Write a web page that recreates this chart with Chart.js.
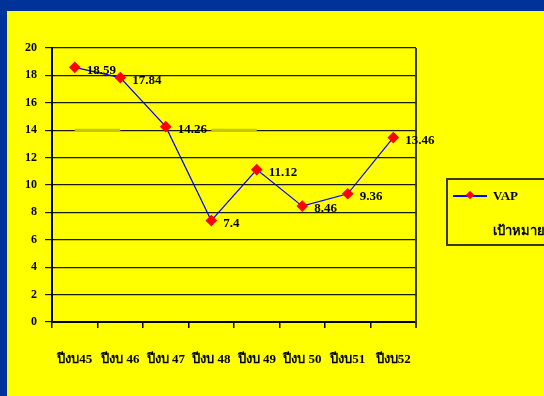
<!DOCTYPE html>
<html>
<head>
<meta charset="utf-8">
<script src="https://cdn.jsdelivr.net/npm/chart.js@4"></script>
<style>
  html, body { margin: 0; padding: 0; }
  body { width: 544px; height: 396px; background: #003399; position: relative; overflow: hidden; }
  #panel { position: absolute; left: 7px; top: 11px; right: 0; bottom: 0; background: #ffff00; }
  #wrap { position: absolute; left: 0; top: 0; width: 544px; height: 396px; }
  #legend {
    position: absolute; left: 446px; top: 178px; width: 120px; height: 64px;
    border: 2px solid #3a3a00; font-family: "Liberation Serif", "Times New Roman", serif;
    font-weight: bold; font-size: 13px; color: #000;
  }
  .row { position: absolute; left: 0; height: 16px; line-height: 16px; }
  .swatch { position: absolute; left: 5px; top: 7px; width: 34px; height: 2px; background: #0000ff; }
  .dia { position: absolute; left: 19px; top: 4px; width: 6px; height: 6px; background: #ff0000; transform: rotate(45deg); }
  .txt { position: absolute; left: 45px; top: 0; white-space: nowrap; }
</style>
</head>
<body>
<div id="panel"></div>
<div id="wrap"><canvas id="c" width="544" height="396"></canvas></div>
<div id="legend">
  <div class="row" style="top:8px;width:120px"><div class="swatch"></div><div class="dia"></div><div class="txt">VAP</div></div>
  <div class="row" style="top:43px;width:120px"><div class="txt">เป้าหมาย</div></div>
</div>
<script>
// Fiscal years and VAP values
const categories = ["ปีงบ45", "ปีงบ 46", "ปีงบ 47", "ปีงบ 48", "ปีงบ 49", "ปีงบ 50", "ปีงบ51", "ปีงบ52"];
const vapValues = [18.59, 17.84, 14.26, 7.4, 11.12, 8.46, 9.36, 13.46];
const targetValues = [14, 14, 14, 14, 14, 14, 14, 14];
const yTicks = [0, 2, 4, 6, 8, 10, 12, 14, 16, 18, 20];

const serif = '"Liberation Serif", "Times New Roman", serif';

// Writes each VAP value to the right of its marker
const valueLabels = {
  id: 'valueLabels',
  afterDatasetsDraw(chart) {
    const ctx = chart.ctx;
    const meta = chart.getDatasetMeta(0);
    ctx.save();
    ctx.font = 'bold 13px ' + serif;
    ctx.fillStyle = '#000';
    ctx.textAlign = 'left';
    ctx.textBaseline = 'middle';
    meta.data.forEach((pt, i) => {
      ctx.fillText(String(vapValues[i]), pt.x + 12, pt.y + 3);
    });
    ctx.restore();
  }
};

// Right-hand edge of the plot frame
const plotFrame = {
  id: 'plotFrame',
  beforeDatasetsDraw(chart) {
    const { ctx, chartArea: a } = chart;
    ctx.save();
    ctx.strokeStyle = '#3a3a00';
    ctx.lineWidth = 2;
    ctx.beginPath();
    ctx.moveTo(a.right, a.top);
    ctx.lineTo(a.right, a.bottom + 6);
    ctx.stroke();
    ctx.restore();
  }
};

new Chart(document.getElementById('c'), {
  type: 'line',
  data: {
    labels: categories,
    datasets: [
      {
        label: 'VAP',
        data: vapValues,
        borderColor: '#0000ff',
        borderWidth: 1.2,
        pointStyle: 'rectRot',
        pointRadius: 5,
        pointBackgroundColor: '#ff0000',
        pointBorderColor: '#ff0000',
        tension: 0,
        order: 1
      },
      {
        label: 'เป้าหมาย',
        data: targetValues,
        borderWidth: 3,
        pointRadius: 0,
        segment: {
          borderColor: c => (c.p0DataIndex === 0 || c.p0DataIndex === 3) ? '#c8c800' : 'rgba(0,0,0,0)'
        },
        order: 2
      }
    ]
  },
  options: {
    responsive: false,
    animation: false,
    layout: { padding: { top: 48, right: 128, bottom: 0, left: 0 } },
    plugins: { legend: { display: false }, tooltip: { enabled: false } },
    scales: {
      x: {
        offset: true,
        grid: { offset: true, drawOnChartArea: false, drawTicks: true, tickLength: 6, color: '#000', lineWidth: 1.5 },
        border: { display: true, color: '#000', width: 2 },
        ticks: { color: '#000', font: { family: serif, weight: 'bold', size: 13 }, padding: 24, maxRotation: 0, autoSkip: false },
        afterFit: s => { s.height = 74; }
      },
      y: {
        min: 0, max: 20,
        afterBuildTicks: s => { s.ticks = yTicks.map(v => ({ value: v })); },
        grid: { color: '#1a1a00', lineWidth: 1.2, tickLength: 7 },
        border: { display: true, color: '#000', width: 2 },
        ticks: { color: '#000', font: { family: serif, weight: 'bold', size: 12 }, padding: 8 },
        afterFit: s => { s.width = 52; }
      }
    }
  },
  plugins: [valueLabels, plotFrame]
});
</script>
</body>
</html>
